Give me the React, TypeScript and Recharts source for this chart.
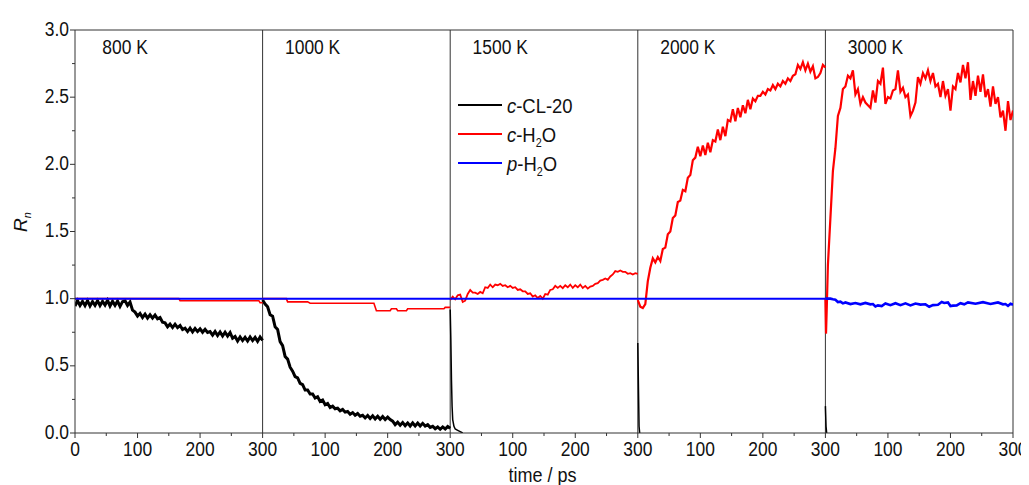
import React from 'react';
import { LineChart, Line, XAxis, YAxis, ReferenceLine, ReferenceDot, Legend } from 'recharts';

const FONT = '"Liberation Sans", Arial, sans-serif';
const SX = 0.85;
const FS = 20.5;
const AXIS = '#333';

// panels (temperatures) and their start on the continuous time axis
const PANEL_NAMES = ['800 K', '1000 K', '1500 K', '2000 K', '3000 K'];
const PANEL_START = [0, 300, 600, 900, 1200];

const X_TICKS = [0, 50, 100, 150, 200, 250, 300, 350, 400, 450, 500, 550, 600, 650, 700, 750, 800, 850, 900, 950,
  1000, 1050, 1100, 1150, 1200, 1250, 1300, 1350, 1400, 1450, 1500];
const Y_TICKS = [0, 0.25, 0.5, 0.75, 1, 1.25, 1.5, 1.75, 2, 2.25, 2.5, 2.75, 3];

// common time grid within a panel (ps)
const TIME4 = [
  0, 4, 8, 12, 16, 20, 24, 28, 32, 36,
  40, 44, 48, 52, 56, 60, 64, 68, 72, 76,
  80, 84, 88, 92, 96, 100, 104, 108, 112, 116,
  120, 124, 128, 132, 136, 140, 144, 148, 152, 156,
  160, 164, 168, 172, 176, 180, 184, 188, 192, 196,
  200, 204, 208, 212, 216, 220, 224, 228, 232, 236,
  240, 244, 248, 252, 256, 260, 264, 268, 272, 276,
  280, 284, 288, 292, 296, 300];

// c-CL-20 (black)
const CL20_800 = [
  0.945, 0.985, 0.95, 0.98, 0.948, 0.985, 0.945, 0.978, 0.95, 0.985,
  0.948, 0.98, 0.952, 0.988, 0.945, 0.98, 0.95, 0.982, 0.942, 0.978,
  0.985, 0.95, 0.975, 0.915, 0.9, 0.87, 0.89, 0.86, 0.885, 0.855,
  0.88, 0.855, 0.878, 0.85, 0.86, 0.825, 0.82, 0.79, 0.81, 0.785,
  0.81, 0.785, 0.8, 0.77, 0.78, 0.755, 0.78, 0.752, 0.778, 0.755,
  0.775, 0.75, 0.772, 0.748, 0.755, 0.728, 0.755, 0.725, 0.752, 0.722,
  0.75, 0.722, 0.748, 0.705, 0.718, 0.685, 0.715, 0.688, 0.712, 0.685,
  0.715, 0.688, 0.712, 0.682, 0.715, 0.69];
const CL20_1000 = [
  0.99, 0.96, 0.94, 0.88, 0.87, 0.79, 0.77, 0.68, 0.65, 0.57,
  0.55, 0.49, 0.46, 0.42, 0.41, 0.37, 0.36, 0.32, 0.32, 0.29,
  0.29, 0.26, 0.27, 0.235, 0.245, 0.21, 0.22, 0.19, 0.2, 0.18,
  0.185, 0.165, 0.175, 0.155, 0.16, 0.14, 0.152, 0.132, 0.145, 0.125,
  0.132, 0.112, 0.13, 0.108, 0.128, 0.105, 0.125, 0.102, 0.122, 0.1,
  0.118, 0.1, 0.088, 0.062, 0.08, 0.058, 0.078, 0.055, 0.075, 0.052,
  0.075, 0.053, 0.074, 0.052, 0.072, 0.052, 0.062, 0.042, 0.05, 0.032,
  0.045, 0.028, 0.045, 0.03, 0.048, 0.035];
const CL20_1500_T = [0, 1, 2, 3, 4, 6, 8, 12, 16, 20];
const CL20_1500 = [0.92, 0.7, 0.4, 0.2, 0.1, 0.05, 0.03, 0.02, 0.01, 0];
const CL20_2000_T = [0, 1, 2, 3];
const CL20_2000 = [0.67, 0.35, 0.05, 0];
const CL20_3000_T = [0, 1, 2];
const CL20_3000 = [0.2, 0.05, 0];

// c-H2O (red)
const CH2O_800_T = [0, 166, 168, 294, 296, 300];
const CH2O_800 = [1, 1, 0.985, 0.985, 0.97, 0.97];
const CH2O_1000_T = [0, 38, 40, 72, 76, 178, 182, 204, 206, 214, 216, 230, 232, 290, 292, 300];
const CH2O_1000 = [1, 1, 0.976, 0.976, 0.966, 0.966, 0.91, 0.91, 0.925, 0.925, 0.91, 0.91, 0.925, 0.925, 0.935, 0.935];
const CH2O_1500 = [
  0.99, 1.015, 0.995, 1.025, 1.03, 0.975, 0.985, 1.035, 1.065, 1.045,
  1.045, 1.035, 1.05, 1.04, 1.085, 1.08, 1.105, 1.085, 1.105, 1.1,
  1.11, 1.095, 1.1, 1.085, 1.095, 1.08, 1.085, 1.065, 1.07, 1.055,
  1.055, 1.035, 1.04, 1.015, 1.025, 1.005, 1.02, 1.0, 1.035, 1.03,
  1.065, 1.07, 1.095, 1.08, 1.095, 1.078, 1.1, 1.085, 1.105, 1.08,
  1.1, 1.085, 1.105, 1.08, 1.095, 1.075, 1.09, 1.095, 1.11, 1.115,
  1.135, 1.14, 1.15, 1.14, 1.165, 1.18, 1.205, 1.2, 1.21, 1.2,
  1.2, 1.185, 1.19, 1.18, 1.19, 1.185];
const CH2O_2000 = [
  0.99, 0.94, 0.93, 0.96, 1.13, 1.23, 1.3, 1.27, 1.31, 1.28,
  1.37, 1.38, 1.48, 1.5, 1.6, 1.62, 1.72, 1.73, 1.81, 1.8,
  1.9, 1.92, 2.03, 2.05, 2.13, 2.06, 2.14, 2.07, 2.16, 2.09,
  2.18, 2.17, 2.26, 2.18, 2.28, 2.21, 2.33, 2.32, 2.41, 2.32,
  2.42, 2.35, 2.44, 2.38, 2.48, 2.41, 2.49, 2.47, 2.51, 2.51,
  2.54, 2.52, 2.56, 2.55, 2.59, 2.56, 2.6, 2.58, 2.62, 2.6,
  2.64, 2.62, 2.66, 2.67, 2.74, 2.71, 2.76, 2.7, 2.75, 2.69,
  2.73, 2.64, 2.65, 2.68, 2.74, 2.72];
const CH2O_3000_T = [
  0, 1, 2, 4, 8, 12, 16, 20, 24, 28, 32, 36,
  40, 44, 48, 52, 56, 60, 64, 68, 72, 76,
  80, 84, 88, 92, 96, 100, 104, 108, 112, 116,
  120, 124, 128, 132, 136, 140, 144, 148, 152, 156,
  160, 164, 168, 172, 176, 180, 184, 188, 192, 196,
  200, 204, 208, 212, 216, 220, 224, 228, 232, 236,
  240, 244, 248, 252, 256, 260, 264, 268, 272, 276,
  280, 284, 288, 292, 296, 300];
const CH2O_3000 = [
  1.0, 0.74, 0.9, 1.25, 1.6, 1.95, 2.12, 2.36, 2.42, 2.56, 2.58, 2.66,
  2.64, 2.7, 2.52, 2.56, 2.45, 2.5, 2.46, 2.44, 2.42, 2.55,
  2.46, 2.62, 2.6, 2.72, 2.45, 2.5, 2.49, 2.55, 2.56, 2.7,
  2.54, 2.57, 2.5, 2.52, 2.36, 2.4, 2.46, 2.65, 2.6, 2.68,
  2.64, 2.7, 2.62, 2.68, 2.58, 2.6, 2.5, 2.62, 2.51, 2.56,
  2.4, 2.58, 2.56, 2.68, 2.61, 2.74, 2.64, 2.76, 2.48, 2.62,
  2.51, 2.66, 2.54, 2.67, 2.5, 2.56, 2.43, 2.58, 2.45, 2.5,
  2.35, 2.4, 2.25, 2.47, 2.33, 2.4];

// p-H2O (blue)
const PH2O_FLAT_T = [0, 300];
const PH2O_FLAT = [1, 1];
const PH2O_3000_T = [
  0, 8, 12, 16, 20, 24, 28, 32, 40, 48,
  56, 64, 72, 76, 80, 84, 90, 96, 104, 112,
  120, 128, 136, 144, 152, 160, 166, 172, 180, 186,
  190, 196, 200, 204, 210, 216, 222, 228, 240, 252,
  264, 276, 284, 288, 292, 296, 300];
const PH2O_3000 = [
  1.0, 1.0, 0.995, 0.992, 0.975, 0.978, 0.965, 0.972, 0.96, 0.968,
  0.958, 0.968, 0.958, 0.96, 0.942, 0.95, 0.945, 0.964, 0.952, 0.966,
  0.952, 0.965, 0.95, 0.964, 0.956, 0.958, 0.94, 0.952, 0.955, 0.975,
  0.968, 0.972, 0.945, 0.948, 0.95, 0.966, 0.958, 0.972, 0.962, 0.974,
  0.96, 0.972, 0.958, 0.96, 0.946, 0.962, 0.955];

type Pt = { t: number; v: number };
const mk = (panel: number, ts: number[], vs: number[]): Pt[] =>
  ts.map((t, i) => ({ t: PANEL_START[panel] + t, v: vs[i] }));

const BLACK = '#000000';
const RED = '#ff0000';
const BLUE = '#0000ff';

const blackSeries = [
  { data: mk(0, TIME4, CL20_800), w: 3 },
  { data: mk(1, TIME4, CL20_1000), w: 3 },
  { data: mk(2, CL20_1500_T, CL20_1500), w: 1.5 },
  { data: mk(3, CL20_2000_T, CL20_2000), w: 1.5 },
  { data: mk(4, CL20_3000_T, CL20_3000), w: 1.5 },
];
const redSeries = [
  { data: mk(0, CH2O_800_T, CH2O_800), w: 1.6 },
  { data: mk(1, CH2O_1000_T, CH2O_1000), w: 1.6 },
  { data: mk(2, TIME4, CH2O_1500), w: 1.8 },
  { data: mk(3, TIME4, CH2O_2000), w: 2.2 },
  { data: mk(4, CH2O_3000_T, CH2O_3000), w: 2.2 },
];
const blueSeries = [
  { data: mk(0, PH2O_FLAT_T, PH2O_FLAT), w: 2 },
  { data: mk(1, PH2O_FLAT_T, PH2O_FLAT), w: 2 },
  { data: mk(2, PH2O_FLAT_T, PH2O_FLAT), w: 2 },
  { data: mk(3, PH2O_FLAT_T, PH2O_FLAT), w: 2 },
  { data: mk(4, PH2O_3000_T, PH2O_3000), w: 2.6 },
];

const xLabel = (v: number) => (v === 0 ? '0' : String(v % 300 === 0 ? 300 : v % 300));

const XTick = (props: any) => {
  const { x, y, payload } = props;
  const v = payload.value as number;
  const major = v % 100 === 0;
  return (
    <g>
      <line x1={x} y1={y} x2={x} y2={y + (major ? 5 : 3)} stroke={AXIS} strokeWidth={1} />
      {major && (
        <text transform={`translate(${x},${y + 23}) scale(${SX},1)`} textAnchor="middle"
          fontSize={FS} fontFamily={FONT} fill="#111">{xLabel(v)}</text>
      )}
    </g>
  );
};

const YTick = (props: any) => {
  const { x, y, payload } = props;
  const v = payload.value as number;
  const major = Math.abs(v * 2 - Math.round(v * 2)) < 1e-6;
  return (
    <g>
      <line x1={x} y1={y} x2={x - (major ? 5 : 3)} y2={y} stroke={AXIS} strokeWidth={1} />
      {major && (
        <text transform={`translate(${x - 6},${y + 5.5}) scale(${SX},1)`} textAnchor="end"
          fontSize={FS} fontFamily={FONT} fill="#111">{v.toFixed(1)}</text>
      )}
    </g>
  );
};

const LEGEND_ITEMS = [
  { color: BLACK, pre: 'c', mid: '-CL-20', sub: '', post: '' },
  { color: RED, pre: 'c', mid: '-H', sub: '2', post: 'O' },
  { color: BLUE, pre: 'p', mid: '-H', sub: '2', post: 'O' },
];

const LegendContent = () => (
  <svg width={170} height={90} style={{ display: 'block', overflow: 'visible' }}>
    {LEGEND_ITEMS.map((it, i) => {
      const y = 15 + 29 * i;
      return (
        <g key={i}>
          <line x1={5} x2={49} y1={y} y2={y} stroke={it.color} strokeWidth={2} />
          <text transform={`translate(54,${y + 7.5}) scale(0.9,1)`} fontSize={FS} fontFamily={FONT} fill="#111">
            <tspan fontStyle="italic">{it.pre}</tspan>
            <tspan>{it.mid}</tspan>
            {it.sub && <tspan dy={5} fontSize={12}>{it.sub}</tspan>}
            {it.post && <tspan dy={-5}>{it.post}</tspan>}
          </text>
        </g>
      );
    })}
  </svg>
);

export default function App() {
  return (
    <div style={{ width: 1021, height: 477, fontFamily: FONT }}>
      <LineChart width={1021} height={477} margin={{ top: 22, right: 16, bottom: 12, left: 0 }}>
        <XAxis dataKey="t" type="number" domain={[0, 1500]} allowDataOverflow ticks={X_TICKS} interval={0}
          tick={<XTick />} tickLine={false} tickSize={0} tickMargin={0} height={40}
          axisLine={{ stroke: AXIS, strokeWidth: 1 }}
          label={{
            content: () => (
              <text transform={`translate(534.5,474) scale(0.88,1)`} textAnchor="middle" fontSize={FS}
                fontFamily={FONT} fill="#111">time / ps</text>
            ),
          }} />
        <YAxis type="number" domain={[0, 3]} allowDataOverflow ticks={Y_TICKS} interval={0}
          tick={<YTick />} tickLine={false} tickSize={0} tickMargin={0} width={67}
          axisLine={{ stroke: AXIS, strokeWidth: 1 }}
          label={{
            content: () => (
              <text transform="translate(19,214) rotate(-90)" textAnchor="middle" fontSize={19}
                fontFamily={FONT} fontStyle="italic" fill="#111">
                R<tspan dy={4} fontSize={11}>n</tspan>
              </text>
            ),
          }} />
        <ReferenceLine y={3} stroke={AXIS} strokeWidth={1} />
        <ReferenceLine x={1500} stroke={AXIS} strokeWidth={1} />
        {PANEL_START.slice(1).map((s) => (
          <ReferenceLine key={'sep' + s} x={s} stroke={AXIS} strokeWidth={1} />
        ))}
        {blackSeries.map((s, i) => (
          <Line key={'b' + i} data={s.data} dataKey="v" type="linear" stroke={BLACK} strokeWidth={s.w}
            dot={false} isAnimationActive={false} name="c-CL-20" legendType="none" />
        ))}
        {redSeries.map((s, i) => (
          <Line key={'r' + i} data={s.data} dataKey="v" type="linear" stroke={RED} strokeWidth={s.w}
            dot={false} isAnimationActive={false} name="c-H2O" legendType="none" />
        ))}
        {blueSeries.map((s, i) => (
          <Line key={'p' + i} data={s.data} dataKey="v" type="linear" stroke={BLUE} strokeWidth={s.w}
            dot={false} isAnimationActive={false} name="p-H2O" legendType="none" />
        ))}
        {PANEL_NAMES.map((name, i) => (
          <ReferenceDot key={name} x={PANEL_START[i] + 80} y={2.825} r={0} fill="none" stroke="none"
            label={{
              content: (p: any) => (
                <text transform={`translate(${p.viewBox.x},${p.viewBox.y}) scale(${SX},1)`} textAnchor="middle"
                  fontSize={FS} fontFamily={FONT} fill="#111">{name}</text>
              ),
            }} />
        ))}
        <Legend layout="vertical" align="center" verticalAlign="middle" content={<LegendContent />}
          wrapperStyle={{ position: 'absolute', left: 445, top: 82, width: 170, height: 90 }} />
      </LineChart>
    </div>
  );
}
